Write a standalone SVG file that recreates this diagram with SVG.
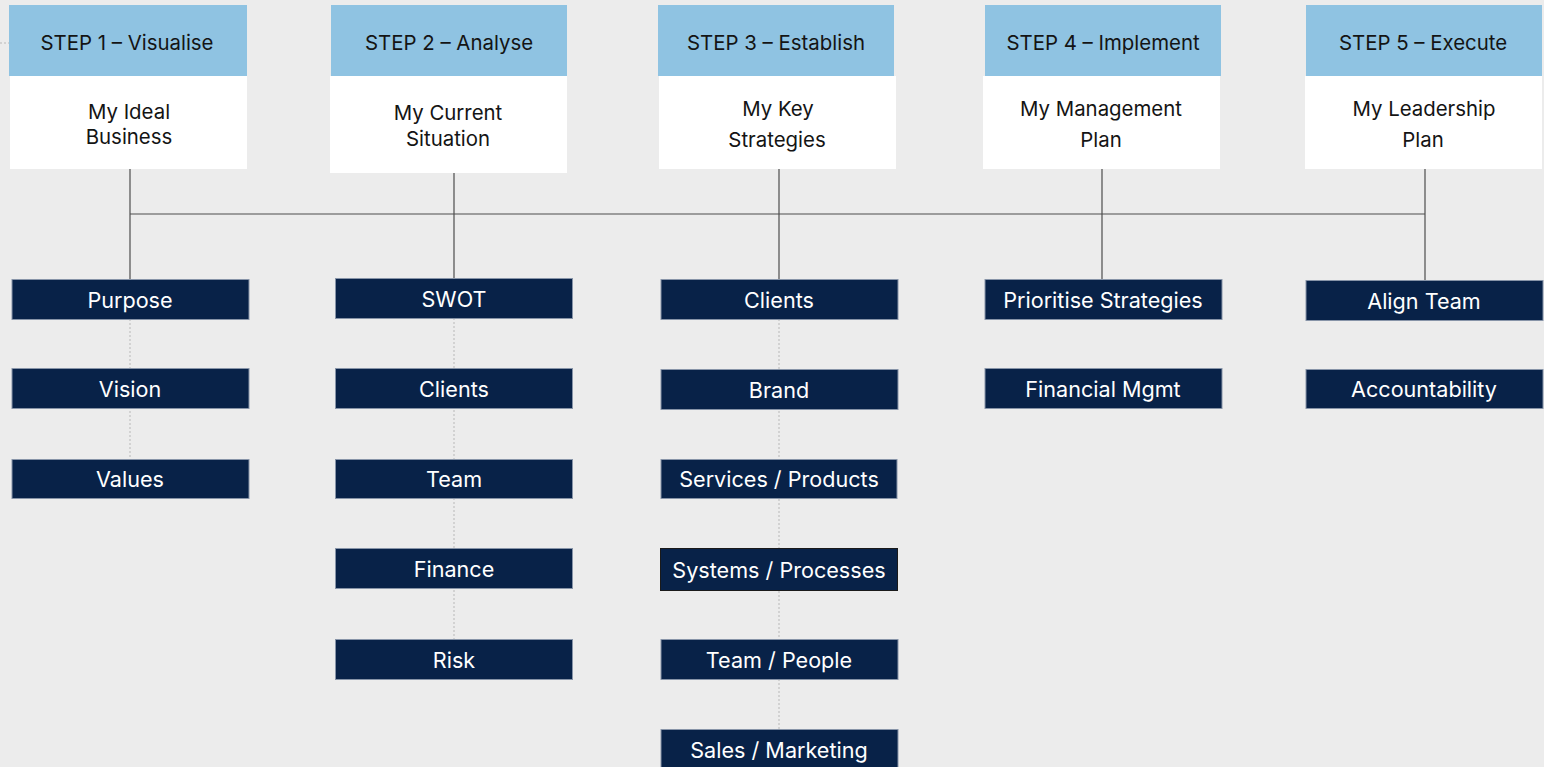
<svg xmlns="http://www.w3.org/2000/svg" width="1544" height="767" viewBox="0 0 1544 767">
  <style>
    .bg { fill: #ececec; }
    .head { fill: #8fc3e2; }
    .sub { fill: #ffffff; }
    .item { fill: #082248; stroke: #8794a8; stroke-width: 1; }
    .item.dark { stroke: #1a1a1a; }
    .t { font-family: Inter, "Open Sans", "Liberation Sans", sans-serif; font-size: 20.4px; text-anchor: middle; }
    .tb { fill: #141414; }
    .tw { fill: #ffffff; font-size: 21.6px; }
    .link { stroke: #4d4d4d; stroke-width: 1.2; fill: none; }
    .dot { stroke: #b8b8b8; stroke-width: 1; stroke-dasharray: 2 2; fill: none; }
  </style>
  <rect class="bg" x="0" y="0" width="1544" height="767"/>

  <!-- connectors -->
  <g id="connectors">
    <path class="dot" d="M0 43 H9"/>
    <path class="dot" d="M130 319 V459"/>
    <path class="dot" d="M454 318 V639"/>
    <path class="dot" d="M779 319 V729"/>
    <path class="link" d="M130 214 H1425"/>
    <path class="link" d="M130 169 V279"/>
    <path class="link" d="M454 173 V278"/>
    <path class="link" d="M779 169 V279"/>
    <path class="link" d="M1102 169 V279"/>
    <path class="link" d="M1425 169 V280"/>
  </g>

  <!-- step headers -->
  <g id="step1">
    <rect class="head" x="9" y="5" width="238" height="71"/>
    <rect class="sub" x="10" y="76" width="237" height="93"/>
    <text class="t tb" x="127" y="50">STEP 1 – Visualise</text>
    <text class="t tb" x="129" y="119">My Ideal</text>
    <text class="t tb" x="129" y="144">Business</text>
  </g>
  <g id="step2">
    <rect class="head" x="331" y="5" width="236" height="71"/>
    <rect class="sub" x="330" y="76" width="237" height="97"/>
    <text class="t tb" x="449" y="50">STEP 2 – Analyse</text>
    <text class="t tb" x="448" y="120">My Current</text>
    <text class="t tb" x="448" y="146">Situation</text>
  </g>
  <g id="step3">
    <rect class="head" x="658" y="5" width="236" height="71"/>
    <rect class="sub" x="659" y="76" width="237" height="93"/>
    <text class="t tb" x="776" y="50">STEP 3 – Establish</text>
    <text class="t tb" x="778" y="116">My Key</text>
    <text class="t tb" x="777" y="147">Strategies</text>
  </g>
  <g id="step4">
    <rect class="head" x="985" y="5" width="236" height="71"/>
    <rect class="sub" x="983" y="76" width="237" height="93"/>
    <text class="t tb" x="1103" y="50">STEP 4 – Implement</text>
    <text class="t tb" x="1101" y="116">My Management</text>
    <text class="t tb" x="1101" y="147">Plan</text>
  </g>
  <g id="step5">
    <rect class="head" x="1306" y="5" width="236" height="71"/>
    <rect class="sub" x="1305" y="76" width="237" height="93"/>
    <text class="t tb" x="1423" y="50">STEP 5 – Execute</text>
    <text class="t tb" x="1424" y="116">My Leadership</text>
    <text class="t tb" x="1423" y="147">Plan</text>
  </g>

  <!-- column 1 -->
  <g id="purpose"><rect class="item" x="12" y="279.5" width="237" height="40"/><text class="t tw" x="130" y="308">Purpose</text></g>
  <g id="vision"><rect class="item" x="12" y="368.5" width="237" height="40"/><text class="t tw" x="130" y="397">Vision</text></g>
  <g id="values"><rect class="item" x="12" y="459.5" width="237" height="39"/><text class="t tw" x="130" y="487">Values</text></g>

  <!-- column 2 -->
  <g id="swot"><rect class="item" x="335.5" y="278.5" width="237" height="40"/><text class="t tw" x="454" y="307">SWOT</text></g>
  <g id="clients-a"><rect class="item" x="335.5" y="368.5" width="237" height="40"/><text class="t tw" x="454" y="397">Clients</text></g>
  <g id="team"><rect class="item" x="335.5" y="459.5" width="237" height="39"/><text class="t tw" x="454" y="487">Team</text></g>
  <g id="finance"><rect class="item" x="335.5" y="548.5" width="237" height="40"/><text class="t tw" x="454" y="577">Finance</text></g>
  <g id="risk"><rect class="item" x="335.5" y="639.5" width="237" height="40"/><text class="t tw" x="454" y="668">Risk</text></g>

  <!-- column 3 -->
  <g id="clients-b"><rect class="item" x="661" y="279.5" width="237" height="40"/><text class="t tw" x="779" y="308">Clients</text></g>
  <g id="brand"><rect class="item" x="661" y="369.5" width="237" height="40"/><text class="t tw" x="779" y="398">Brand</text></g>
  <g id="services"><rect class="item" x="661" y="459.5" width="236" height="39"/><text class="t tw" x="779" y="487">Services / Products</text></g>
  <g id="systems"><rect class="item dark" x="660.5" y="548.5" width="237" height="42"/><text class="t tw" x="779" y="578">Systems / Processes</text></g>
  <g id="team-people"><rect class="item" x="661" y="639.5" width="237" height="40"/><text class="t tw" x="779" y="668">Team / People</text></g>
  <g id="sales"><rect class="item" x="661" y="729.5" width="237" height="45"/><text class="t tw" x="779" y="758">Sales / Marketing</text></g>

  <!-- column 4 -->
  <g id="prioritise"><rect class="item" x="985" y="279.5" width="237" height="40"/><text class="t tw" x="1103" y="308">Prioritise Strategies</text></g>
  <g id="financial"><rect class="item" x="985" y="368.5" width="237" height="40"/><text class="t tw" x="1103" y="397">Financial Mgmt</text></g>

  <!-- column 5 -->
  <g id="align"><rect class="item" x="1306" y="280.5" width="237" height="40"/><text class="t tw" x="1424" y="309">Align Team</text></g>
  <g id="accountability"><rect class="item" x="1306" y="369.5" width="237" height="39"/><text class="t tw" x="1424" y="397">Accountability</text></g>
</svg>
